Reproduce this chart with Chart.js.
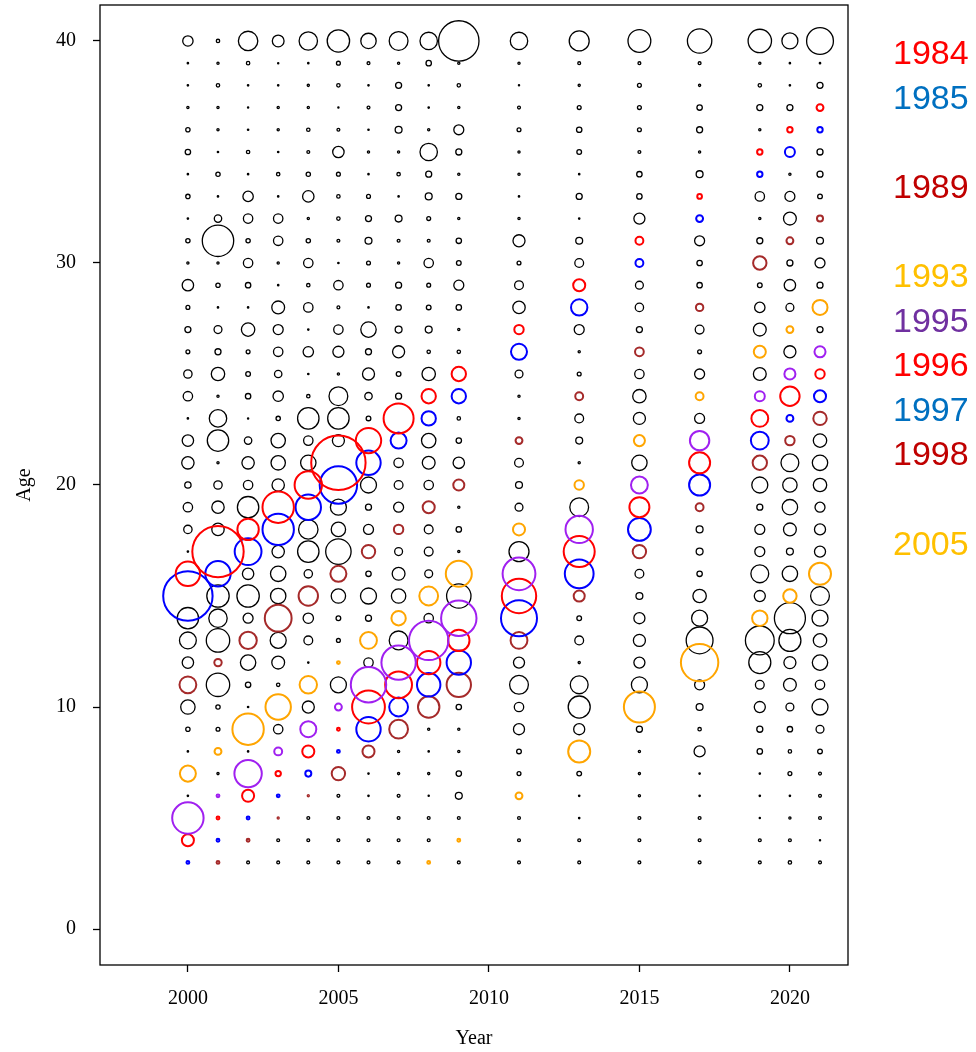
<!DOCTYPE html>
<html>
<head>
<meta charset="utf-8">
<title>Age by year</title>
<script src="https://cdn.jsdelivr.net/npm/chart.js@4.4.1/dist/chart.umd.min.js"></script>
<style>
  body { margin: 0; background: #fff; }
  #wrap { position: relative; width: 976px; height: 1052px; }
  #cohort-list {
    position: absolute; left: 893px; top: 30px;
    font-family: "Liberation Sans", Arial, sans-serif;
    font-size: 34px; line-height: 44.6px;
  }
  #cohort-list div { height: 44.6px; }
</style>
</head>
<body>
<div id="wrap">
  <canvas id="CHART-AGE" width="976" height="1052"></canvas>
  <div id="cohort-list"></div>
</div>
<script>
// survey years and ages
const years = [2000, 2001, 2002, 2003, 2004, 2005, 2006, 2007, 2008, 2009, 2011, 2013, 2015, 2017, 2019, 2020, 2021];
const ages = [3, 4, 5, 6, 7, 8, 9, 10, 11, 12, 13, 14, 15, 16, 17, 18, 19, 20, 21,
              22, 23, 24, 25, 26, 27, 28, 29, 30, 31, 32, 33, 34, 35, 36, 37, 38, 39, 40];

// highlighted birth cohorts
const cohorts = [1984, 1985, 1989, 1993, 1995, 1996, 1997, 1998, 2005];
const ringColors = ['#ff0000', '#0000ff', '#a52a2a', '#ffa500', '#a020f0', '#ff0000', '#0000ff', '#a52a2a', '#ffa500'];
const labelColors = ['#ff0000', '#0070c0', '#c00000', '#ffc000', '#7030a0', '#ff0000', '#0070c0', '#c00000', '#ffc000'];
const legendRows = ['1984', '1985', '', '1989', '', '1993', '1995', '1996', '1997', '1998', '', '2005'];

// bubble values per year, ages 3 -> 40
const v2000 = [3,40,256,1,69,1,6,56,76,36,76,121,625,156,1,20,25,12,42,36,1,25,20,5,11,5,36,2,6,1,6,1,9,6,2,1,1,30];
const v2001 = [3,3,3,3,2,14,5,6,144,16,144,90,132,169,676,42,42,20,2,121,81,2,49,11,18,1,6,2,256,16,1,6,1,2,2,4,2,4];
const v2002 = [3,3,3,40,196,1,256,1,9,64,81,28,132,36,188,121,121,25,42,16,0.5,9,7,5,49,1,9,25,6,25,30,1,4,1,0.5,1,4,100];
const v2003 = [3,3,1,3,9,18,25,169,4,45,69,188,64,64,42,256,256,42,56,56,6,30,16,25,28,45,1,2,25,25,1,4,1,2,2,1,0.5,38];
const v2004 = [3,3,3,1,11,40,69,40,81,1,22,30,100,20,121,100,169,196,64,25,121,4,1,30,1,25,4,25,6,2,36,6,3,4,2,2,1,90];
const v2005 = [3,3,3,3,49,3,3,14,69,3,5,7,56,69,169,56,69,361,756,40,121,94,2,34,25,3,25,1,3,4,4,5,36,3,0.5,4,5,132];
const v2006 = [3,3,3,1,1,40,156,279,324,25,76,11,69,9,49,28,11,69,156,169,7,16,40,11,64,1,5,5,14,11,5,1,2,1,3,1,3,64];
const v2007 = [3,3,3,3,2,2,94,94,188,306,94,56,56,45,18,25,28,22,25,69,234,11,7,40,14,9,11,2,3,14,1,4,2,14,11,11,2,94];
const v2008 = [3,3,3,0.5,2,1,2,121,144,144,400,25,94,18,22,22,40,25,45,56,56,56,49,4,14,7,5,25,3,5,14,11,81,2,1,1,9,81];
const v2009 = [3,3,3,14,9,2,2,9,156,156,121,324,156,177,2,9,2,34,36,9,4,56,56,4,2,9,28,7,9,2,11,2,11,28,2,4,2,420];
const v2011 = [3,3,3,14,5,7,34,25,94,34,76,335,306,279,106,40,18,14,22,14,2,2,18,69,25,42,22,5,40,2,1,2,2,5,3,0.5,2,81];
const v2013 = [3,3,1,1,7,128,34,128,85,2,22,7,34,216,250,196,94,25,2,14,22,18,5,2,28,72,40,22,14,1,11,1,7,9,5,2,3,106];
const v2015 = [3,3,3,2,2,2,11,250,69,34,40,34,14,22,49,137,106,76,64,34,40,49,25,22,11,20,18,18,18,34,9,9,3,5,5,5,3,137];
const v2017 = [3,3,3,1,1,34,4,14,28,361,188,69,49,9,14,14,18,117,117,100,28,18,28,5,22,16,9,9,28,14,7,14,2,11,9,2,3,156];
const v2019 = [3,3,0.5,1,1,9,11,34,22,128,216,64,34,85,28,28,11,69,56,85,76,28,45,40,45,30,7,49,11,2,25,9,9,2,11,4,2,144];
const v2020 = [4,3,2,1,5,4,9,18,45,40,128,250,49,64,14,45,64,56,85,25,14,100,34,40,14,18,36,11,14,45,28,2,28,9,11,1,1,69];
const v2021 = [3,0.5,3,3,3,7,18,69,25,64,49,69,94,128,34,34,28,49,64,49,49,40,25,34,11,61,11,28,14,11,7,11,11,9,14,11,1,188];
const sizeRows = [v2000, v2001, v2002, v2003, v2004, v2005, v2006, v2007, v2008, v2009,
                  v2011, v2013, v2015, v2017, v2019, v2020, v2021];

// axis ticks
const xTicks = [2000, 2005, 2010, 2015, 2020];
const yTicks = [0, 10, 20, 30, 40];

// ring radius grows with the square root of the value
const radius = (v) => Math.max(0.6, Math.sqrt(v) - 0.3);

// one dataset per cohort, everything else black
const cohortSets = cohorts.map((c, i) => ({
  label: String(c),
  data: [],
  borderColor: ringColors[i],
  backgroundColor: 'rgba(0,0,0,0)',
  borderWidth: 2
}));
const otherSet = {
  label: 'other',
  data: [],
  borderColor: '#000',
  backgroundColor: 'rgba(0,0,0,0)',
  borderWidth: 1.3
};

years.forEach((yr, yi) => {
  sizeRows[yi].forEach((v, ai) => {
    const age = ages[ai];
    const ci = cohorts.indexOf(yr - age);
    const pt = { x: yr, y: age, r: radius(v) };
    if (ci >= 0) cohortSets[ci].data.push(pt);
    else otherSet.data.push(pt);
  });
});

// box around the plot area
const framePlugin = {
  id: 'frame',
  afterDraw(chart) {
    const { ctx, chartArea: a } = chart;
    ctx.save();
    ctx.strokeStyle = '#000';
    ctx.lineWidth = 1.3;
    ctx.strokeRect(a.left, a.top, a.right - a.left, a.bottom - a.top);
    ctx.restore();
  }
};

const serif = '"Liberation Serif", "Times New Roman", serif';

const bubbleOptions = {
  responsive: false,
  animation: false,
  layout: { autoPadding: false, padding: { left: 0, top: 5, right: 128, bottom: 0 } },
  plugins: {
    legend: { display: false },
    tooltip: { enabled: false }
  },
  scales: {
    x: {
      type: 'linear',
      min: 1997.08,
      max: 2021.93,
      afterBuildTicks(scale) { scale.ticks = xTicks.map(v => ({ value: v })); },
      afterFit(scale) {
        scale.height = 87;
        scale.paddingLeft = 0;
        scale.paddingRight = 0;
      },
      border: { display: false },
      grid: { drawOnChartArea: false, drawTicks: true, tickLength: 7, tickColor: '#000', tickWidth: 1.3 },
      ticks: {
        color: '#000',
        padding: 15,
        maxRotation: 0,
        font: { family: serif, size: 20 },
        callback: (v) => String(v)
      },
      title: {
        display: true,
        text: 'Year',
        color: '#000',
        font: { family: serif, size: 20 },
        padding: { bottom: 1 }
      }
    },
    y: {
      type: 'linear',
      min: -1.62,
      max: 41.62,
      afterBuildTicks(scale) { scale.ticks = yTicks.map(v => ({ value: v })); },
      afterFit(scale) {
        scale.width = 100;
        scale.paddingTop = 0;
        scale.paddingBottom = 0;
      },
      border: { display: false },
      grid: { drawOnChartArea: false, drawTicks: true, tickLength: 7, tickColor: '#000', tickWidth: 1.3 },
      ticks: {
        color: '#000',
        padding: 17,
        font: { family: serif, size: 20 },
        callback: (v) => String(v)
      },
      title: {
        display: true,
        text: 'Age',
        color: '#000',
        font: { family: serif, size: 20 },
        padding: { top: 13 }
      }
    }
  }
};

const ageChart = new Chart(document.getElementById('CHART-AGE'), {
  type: 'bubble',
  data: { datasets: [...cohortSets, otherSet] },
  options: bubbleOptions,
  plugins: [framePlugin]
});

// cohort labels on the right
const $list = document.getElementById('cohort-list');
legendRows.forEach((txt) => {
  const row = document.createElement('div');
  row.textContent = txt;
  const ci = cohorts.indexOf(Number(txt));
  if (txt && ci >= 0) row.style.color = labelColors[ci];
  $list.appendChild(row);
});
</script>
</body>
</html>
